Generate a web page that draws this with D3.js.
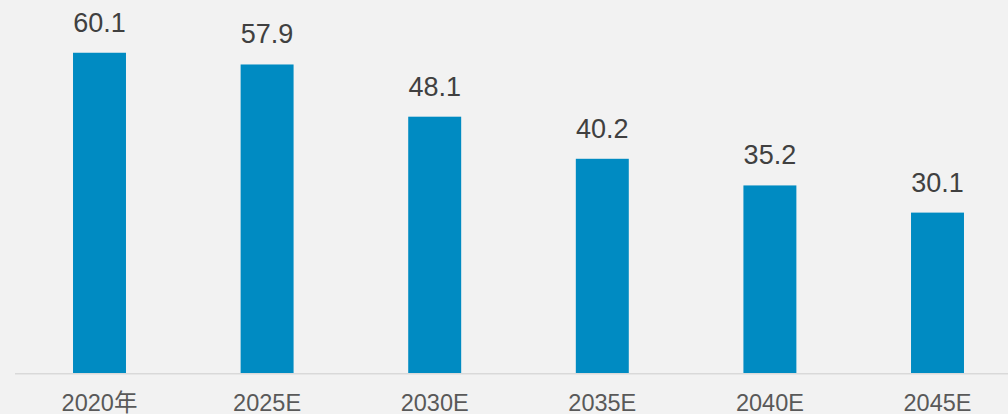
<!DOCTYPE html>
<html>
<head>
<meta charset="utf-8">
<script src="https://cdn.jsdelivr.net/npm/d3@7/dist/d3.min.js"></script>
<style>
  html, body { margin: 0; padding: 0; background: #F2F2F2; }
  svg { display: block; }
</style>
</head>
<body>
<svg id="chart" width="1008" height="414"></svg>
<script>
// Categories and values for each year
const categories = ["2020年", "2025E", "2030E", "2035E", "2040E", "2045E"];
const values = [60.1, 57.9, 48.1, 40.2, 35.2, 30.1];

const W = 1008, H = 414;
const baseY = 373;

const svg = d3.select("#chart");

svg.append("rect").attr("width", W).attr("height", H).attr("fill", "#F2F2F2");

const x = d3.scaleBand()
  .domain(categories)
  .range([15.7, 1021.3])
  .paddingInner(0.684)
  .paddingOuter(0.342);

const y = d3.scaleLinear()
  .domain([0, 70])
  .range([baseY, 0]);

const font = "'Liberation Sans', Arial, 'Noto Sans CJK SC', sans-serif";

// Bars
svg.append("g").selectAll("rect")
  .data(values)
  .join("rect")
  .attr("x", (d, i) => x(categories[i]))
  .attr("y", d => y(d))
  .attr("width", x.bandwidth())
  .attr("height", d => y(0) - y(d))
  .attr("fill", "#008BC2");

// Baseline
svg.append("line")
  .attr("x1", 15).attr("x2", W)
  .attr("y1", baseY + 0.75).attr("y2", baseY + 0.75)
  .attr("stroke", "#D9D9D9")
  .attr("stroke-width", 1.5);

// Value labels
svg.append("g").selectAll("text")
  .data(values)
  .join("text")
  .attr("x", (d, i) => x(categories[i]) + x.bandwidth() / 2)
  .attr("y", d => y(d) - 21)
  .attr("text-anchor", "middle")
  .attr("font-family", font)
  .attr("font-size", 27)
  .attr("fill", "#404040")
  .text(d => d.toFixed(1));

// Category labels
svg.append("g").selectAll("text")
  .data(categories)
  .join("text")
  .attr("x", d => x(d) + x.bandwidth() / 2)
  .attr("y", 411)
  .attr("text-anchor", "middle")
  .attr("font-family", font)
  .attr("font-size", 23.5)
  .attr("fill", "#595959")
  .text(d => d);
</script>
</body>
</html>
